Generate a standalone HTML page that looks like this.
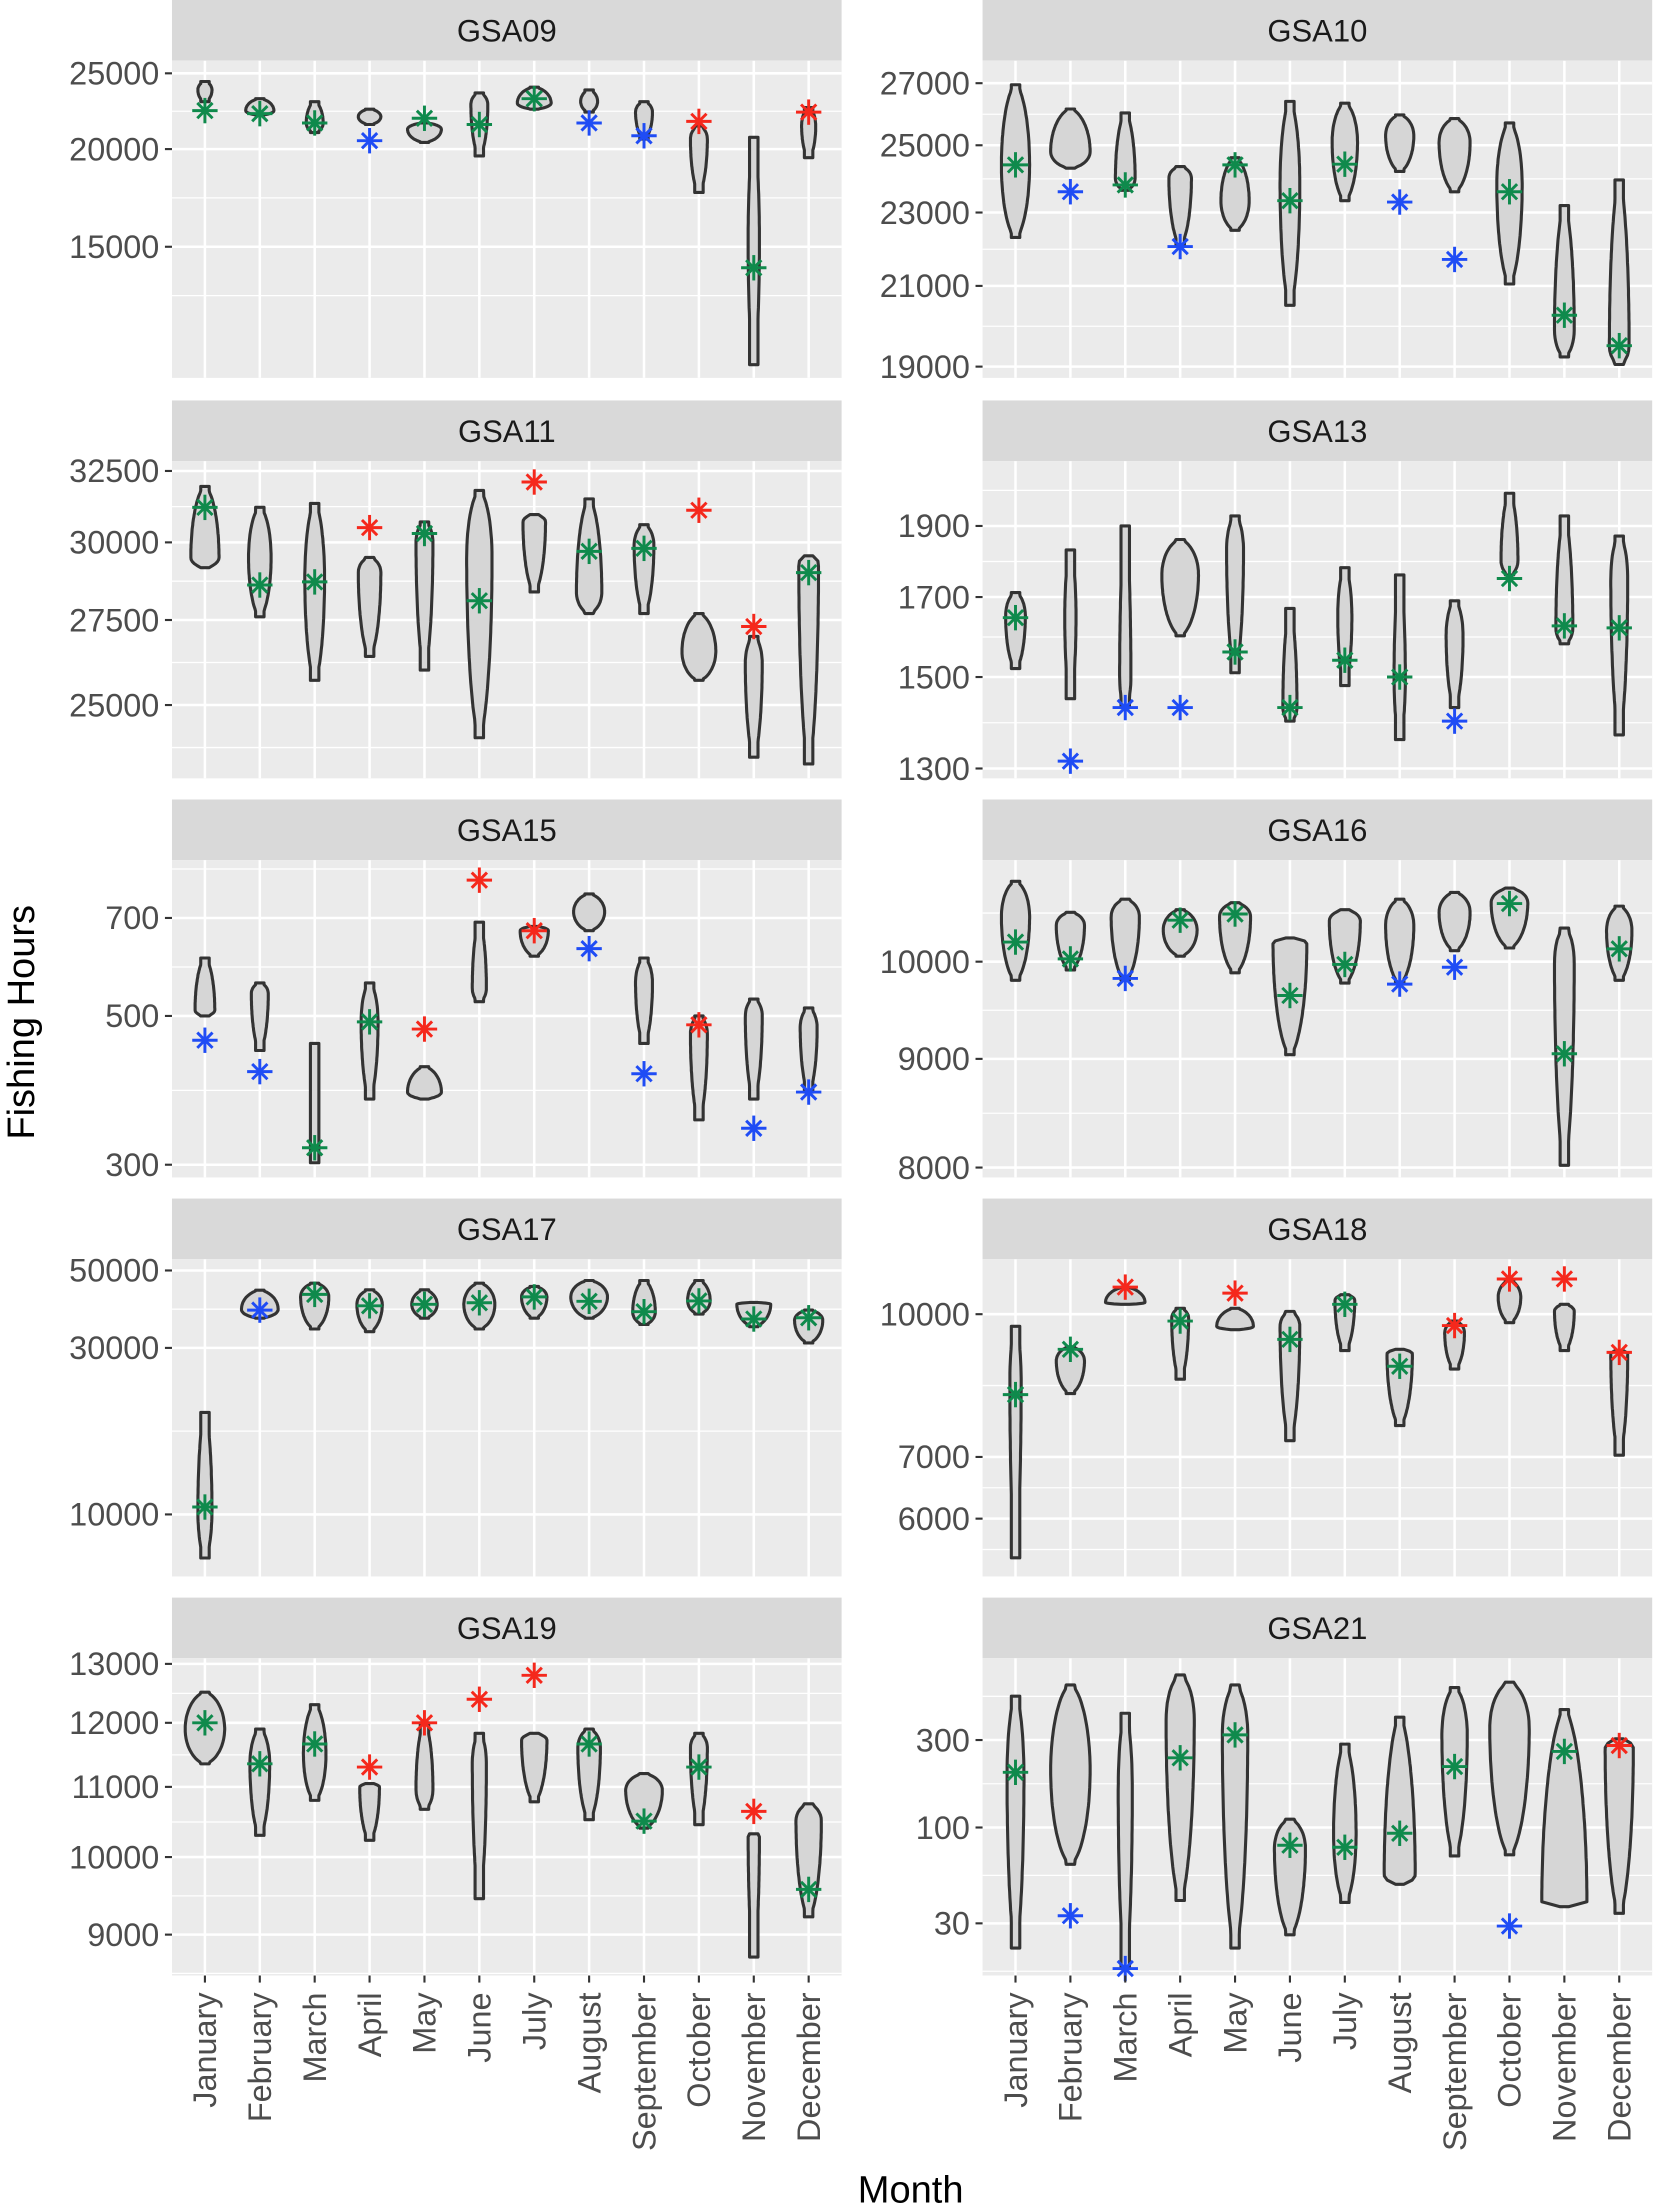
<!DOCTYPE html>
<html><head><meta charset="utf-8"><style>
html,body{margin:0;padding:0;background:#fff;}
svg{display:block;font-family:"Liberation Sans",Arial,sans-serif;}
</style></head><body>
<svg id="chart" width="1655" height="2211" viewBox="0 0 1174 1568" preserveAspectRatio="none" xmlns="http://www.w3.org/2000/svg">
<text x="24" y="725" font-size="27" text-anchor="middle" transform="rotate(-90 24 725)" fill="#000">Fishing Hours</text>
<text x="646" y="1562" font-size="27" text-anchor="middle" fill="#000">Month</text>
</svg>
<script>
const months=["January","February","March","April","May","June","July","August","September","October","November","December"];
// GSA09
const gsa09_lo=[23000,22100,21000,21500,20400,19600,22500,22300,20600,17600,10600,19500];
const gsa09_hi=[24400,23200,23000,22500,21600,23600,24000,23800,23000,21400,20700,22600];
const gsa09_mid=[23800,22400,21600,22000,21200,22800,22900,23000,22300,20600,15200,21400];
const gsa09_w=[5,10,6,8,12,6,12,6,6,6,4,5];
const gsa09_star=[22400,22200,21600,20500,21900,21500,23200,21600,20800,21700,14100,22300];
const gsa09_col=["g","g","g","b","g","g","g","b","b","r","g","r"];
const gsa09_ticks=[15000,20000,25000];
// GSA10
const gsa10_lo=[22300,24300,23640,22100,22500,20500,23340,24200,23600,21050,19230,19050];
const gsa10_hi=[26950,26150,26020,24350,24620,26400,26340,25960,25840,25700,23200,23950];
const gsa10_mid=[24400,24800,24000,24000,23340,23800,25100,25300,25100,23800,19900,19500];
const gsa10_w=[10,14,7,8,10,7,9,10,11,9,7,7];
const gsa10_star=[24400,23600,23800,22050,24400,23340,24420,23300,21700,23600,20250,19500];
const gsa10_col=["g","b","g","b","g","g","g","b","b","g","g","g"];
const gsa10_ticks=[19000,21000,23000,25000,27000];
// GSA11
const gsa11_lo=[29160,27600,25700,26400,26000,24100,28380,27700,27700,25700,23580,23400];
const gsa11_hi=[31940,31200,31340,29500,30700,31800,30950,31500,30600,27700,27000,29550];
const gsa11_mid=[29500,29500,28800,29000,30000,29500,30700,28380,29900,26550,26200,29300];
const gsa11_w=[10,8,7,8,6,9,8,9,7,12,6,7];
const gsa11_star=[31200,28600,28700,30500,30300,28100,32100,29700,29800,31100,27300,29000];
const gsa11_col=["g","g","g","r","g","g","r","g","g","r","r","g"];
const gsa11_ticks=[25000,27500,30000,32500];
// GSA13
const gsa13_lo=[1520,1450,1430,1600,1510,1400,1480,1360,1430,1760,1580,1370];
const gsa13_hi=[1712,1830,1900,1860,1930,1670,1780,1760,1690,2000,1930,1870];
const gsa13_mid=[1650,1650,1500,1760,1830,1430,1650,1500,1600,1800,1620,1750];
const gsa13_w=[7,4,4,13,6,5,5,4,6,6,6,6];
const gsa13_star=[1646,1315,1430,1430,1560,1430,1540,1500,1400,1750,1625,1620];
const gsa13_col=["g","b","b","b","g","g","g","g","b","g","g","g"];
const gsa13_ticks=[1300,1500,1700,1900];
// GSA15
const gsa15_lo=[500,444,302,376,376,525,614,670,455,350,376,385];
const gsa15_hi=[610,560,455,560,420,690,680,760,610,500,530,514];
const gsa15_mid=[510,540,360,490,385,550,670,715,560,470,500,480];
const gsa15_w=[7,6,3,6,12,5,10,11,6,6,6,6];
const gsa15_star=[460,413,318,490,478,797,670,630,410,485,340,385];
const gsa15_col=["b","b","g","g","r","r","r","b","b","r","b","b"];
const gsa15_ticks=[300,500,700];
// GSA16
const gsa16_lo=[9800,9910,9800,10060,9880,9040,9770,9770,10120,10150,8020,9800];
const gsa16_hi=[10910,10550,10700,10580,10660,10260,10580,10700,10780,10830,10370,10620];
const gsa16_mid=[10500,10400,10500,10350,10500,10200,10450,10400,10550,10660,10000,10340];
const gsa16_w=[10,10,10,12,11,12,11,10,11,13,7,9];
const gsa16_star=[10215,10030,9820,10460,10530,9640,9970,9760,9940,10650,9050,10140];
const gsa16_col=["g","g","b","g","g","g","g","b","b","g","g","g"];
const gsa16_ticks=[8000,9000,10000];
// GSA17
const gsa17_lo=[7500,36500,34000,33400,36500,34000,36500,36500,35000,37500,34500,31000];
const gsa17_hi=[19600,43900,46000,44000,44000,46000,45000,46800,46800,46800,40500,38500];
const gsa17_mid=[10300,38700,42000,40000,40000,40000,42000,42000,38000,41000,40000,36000];
const gsa17_w=[5,13,10,9,9,11,9,13,8,8,12,10];
const gsa17_star=[10500,38500,42700,39600,40000,40400,42000,40800,38100,40900,36300,36600];
const gsa17_col=["g","b","g","g","g","g","g","g","g","g","g","g"];
const gsa17_ticks=[10000,30000,50000];
// GSA18
const gsa18_lo=[5440,8200,10250,8500,9620,7290,9130,7570,8720,9790,9130,7030];
const gsa18_hi=[9700,9220,10700,10150,10150,10070,10500,9160,9830,10880,10250,9130];
const gsa18_mid=[8450,8900,10300,9900,9700,9700,10350,9060,9550,10430,10070,9060];
const gsa18_w=[4,10,14,6,13,7,7,9,7,8,7,6];
const gsa18_star=[8180,9160,10700,9830,10540,9390,10250,8780,9720,10920,10920,9090];
const gsa18_col=["g","g","r","g","r","g","g","g","r","r","r","r"];
const gsa18_ticks=[6000,7000,10000];
// GSA19
const gsa19_lo=[11350,10300,10800,10230,10670,9450,10780,10520,10400,10450,8730,9220];
const gsa19_hi=[12510,11900,12300,11050,12000,11830,11830,11900,11200,11830,10320,10750];
const gsa19_mid=[11900,11350,11500,11000,10970,11350,11720,11600,10950,11600,10300,10500];
const gsa19_w=[14,7,8,7,6,5,9,8,13,6,4,9];
const gsa19_star=[12000,11350,11660,11300,12000,12390,12800,11660,10500,11300,10640,9570];
const gsa19_col=["g","g","g","r","r","r","r","g","g","g","r","g"];
const gsa19_ticks=[9000,10000,11000,12000,13000];
// GSA21
const gsa21_lo=[22,63,17,40,22,26,39,49,70,71,37,34];
const gsa21_hi=[520,600,420,680,600,111,285,400,580,620,440,305];
const gsa21_mid=[190,205,160,385,320,77,93,55,320,350,38,270];
const gsa21_w=[6,14,5,10,9,11,8,11,9,14,16,10];
const gsa21_star=[200,33,17,240,320,80,78,93,215,29,260,280];
const gsa21_col=["g","b","b","g","g","g","g","g","g","b","g","r"];
const gsa21_ticks=[30,100,300];

const NS="http://www.w3.org/2000/svg";
const svg=document.getElementById("chart");
const colors={g:"#0f8a4c",b:"#1f4cf5",r:"#f5281c"};
const panels=[
 {name:"GSA09",col:0,row:0,lo:gsa09_lo,hi:gsa09_hi,mid:gsa09_mid,w:gsa09_w,star:gsa09_star,sc:gsa09_col,ticks:gsa09_ticks,cal:[25000,52,15000,175]},
 {name:"GSA10",col:1,row:0,lo:gsa10_lo,hi:gsa10_hi,mid:gsa10_mid,w:gsa10_w,star:gsa10_star,sc:gsa10_col,ticks:gsa10_ticks,cal:[27000,59,19000,260]},
 {name:"GSA11",col:0,row:1,lo:gsa11_lo,hi:gsa11_hi,mid:gsa11_mid,w:gsa11_w,star:gsa11_star,sc:gsa11_col,ticks:gsa11_ticks,cal:[32500,334,25000,500]},
 {name:"GSA13",col:1,row:1,lo:gsa13_lo,hi:gsa13_hi,mid:gsa13_mid,w:gsa13_w,star:gsa13_star,sc:gsa13_col,ticks:gsa13_ticks,cal:[1900,373,1300,545]},
 {name:"GSA15",col:0,row:2,lo:gsa15_lo,hi:gsa15_hi,mid:gsa15_mid,w:gsa15_w,star:gsa15_star,sc:gsa15_col,ticks:gsa15_ticks,cal:[700,651,300,826]},
 {name:"GSA16",col:1,row:2,lo:gsa16_lo,hi:gsa16_hi,mid:gsa16_mid,w:gsa16_w,star:gsa16_star,sc:gsa16_col,ticks:gsa16_ticks,cal:[10000,682,8000,828]},
 {name:"GSA17",col:0,row:3,lo:gsa17_lo,hi:gsa17_hi,mid:gsa17_mid,w:gsa17_w,star:gsa17_star,sc:gsa17_col,ticks:gsa17_ticks,cal:[50000,901,10000,1074]},
 {name:"GSA18",col:1,row:3,lo:gsa18_lo,hi:gsa18_hi,mid:gsa18_mid,w:gsa18_w,star:gsa18_star,sc:gsa18_col,ticks:gsa18_ticks,cal:[10000,932,6000,1077]},
 {name:"GSA19",col:0,row:4,lo:gsa19_lo,hi:gsa19_hi,mid:gsa19_mid,w:gsa19_w,star:gsa19_star,sc:gsa19_col,ticks:gsa19_ticks,cal:[13000,1180,9000,1372]},
 {name:"GSA21",col:1,row:4,lo:gsa21_lo,hi:gsa21_hi,mid:gsa21_mid,w:gsa21_w,star:gsa21_star,sc:gsa21_col,ticks:gsa21_ticks,cal:[300,1234,30,1364]}
];
const colX=[122,697], panelW=475, rowTop=[0,284,567,850,1133], stripH=43, panelH=225;
function mk(tag,attrs,parent){const e=document.createElementNS(NS,tag);for(const k in attrs)e.setAttribute(k,attrs[k]);(parent||svg).appendChild(e);return e;}
panels.forEach(p=>{
  const x0=colX[p.col], top=rowTop[p.row], py0=top+stripH, py1=top+stripH+panelH;
  const step=panelW/12.2;
  const xs=i=>x0+(i+0.6)*step;
  const [v1,y1,v2,y2]=p.cal;
  const ys=v=>y1+(y2-y1)*(Math.log(v)-Math.log(v1))/(Math.log(v2)-Math.log(v1));
  const g=mk("g",{});
  
  
  const strip=mk("rect",{x:x0,y:top,width:panelW,height:stripH,fill:"#d9d9d9"},g);
  
  
  const st=mk("text",{x:x0+panelW/2,y:top+stripH/2+8,"font-size":22,"text-anchor":"middle",fill:"#1a1a1a"},g);
  st.textContent=p.name;
  
  
  const bg=mk("rect",{x:x0,y:py0,width:panelW,height:panelH,fill:"#ebebeb"},g);
  
  
  const cid="clip"+p.name;
  const cp=mk("clipPath",{id:cid},g); mk("rect",{x:x0,y:py0,width:panelW,height:panelH},cp);
  const gg=mk("g",{"clip-path":"url(#"+cid+")"},g);
  const lt=p.ticks.map(t=>ys(t));
  const d=lt.length>1?lt[1]-lt[0]:50;
  const minors=[];
  for(let i=0;i<lt.length-1;i++)minors.push((lt[i]+lt[i+1])/2);
  minors.push(lt[0]-d/2); minors.push(lt[lt.length-1]+(lt[lt.length-1]-lt[lt.length-2])/2);
  minors.forEach(y=>mk("line",{x1:x0,x2:x0+panelW,y1:y,y2:y,stroke:"#fff","stroke-width":0.9},gg));
  lt.forEach(y=>mk("line",{x1:x0,x2:x0+panelW,y1:y,y2:y,stroke:"#fff","stroke-width":1.8},gg));
  for(let i=0;i<12;i++)mk("line",{x1:xs(i),x2:xs(i),y1:py0,y2:py1,stroke:"#fff","stroke-width":1.8},gg);
  p.ticks.forEach(t=>{
    const y=ys(t);
    mk("line",{x1:x0-5,x2:x0,y1:y,y2:y,stroke:"#333","stroke-width":1.5},g);
    const tx=mk("text",{x:x0-9,y:y+8,"font-size":23,"text-anchor":"end",fill:"#4d4d4d"},g);
    tx.textContent=t;
    
    
  });
  for(let i=0;i<12;i++){
    const yl=ys(p.lo[i]), yh=ys(p.hi[i]), ym=Math.min(Math.max(ys(p.mid[i]),yh),yl), hw=p.w[i];
    const N=40, left=[], right=[];
    for(let k=0;k<=N;k++){
      const y=yh+(yl-yh)*k/N;
      let s; if(y<ym) s=(ym-y)/Math.max(ym-yh,1); else s=(y-ym)/Math.max(yl-ym,1);
      s=Math.min(1,s);
      const w=Math.max(3,hw*Math.pow(1-s*s,0.6));
      left.push([xs(i)-w,y]); right.push([xs(i)+w,y]);
    }
    const pts=left.concat(right.reverse()).map(q=>q[0].toFixed(1)+","+q[1].toFixed(1)).join(" ");
    const v=mk("polygon",{points:pts,fill:"#d6d6d6",stroke:"#333","stroke-width":2.2,"stroke-linejoin":"round"},gg);
    
    
  }
  for(let i=0;i<12;i++){
    const cx=xs(i), cy=ys(p.star[i]), r=9, c=colors[p.sc[i]];
    const sg=mk("g",{stroke:c,"stroke-width":2.1},g);
    
    
    [0,45,90,135].forEach(a=>{const rad=a*Math.PI/180;const rr=(a%90===0)?r:r*0.85;
      mk("line",{x1:cx-rr*Math.cos(rad),y1:cy-rr*Math.sin(rad),x2:cx+rr*Math.cos(rad),y2:cy+rr*Math.sin(rad)},sg);});
  }
  if(p.row===4){
    for(let i=0;i<12;i++){
      mk("line",{x1:xs(i),x2:xs(i),y1:py1,y2:py1+5,stroke:"#333","stroke-width":1.5},g);
      const tx=mk("text",{x:xs(i)+8,y:py1+12,"font-size":23,"text-anchor":"end",fill:"#4d4d4d",transform:"rotate(-90 "+(xs(i)+8)+" "+(py1+12)+")"},g);
      tx.textContent=months[i];
      
      
    }
  }
});
</script>
</body></html>
